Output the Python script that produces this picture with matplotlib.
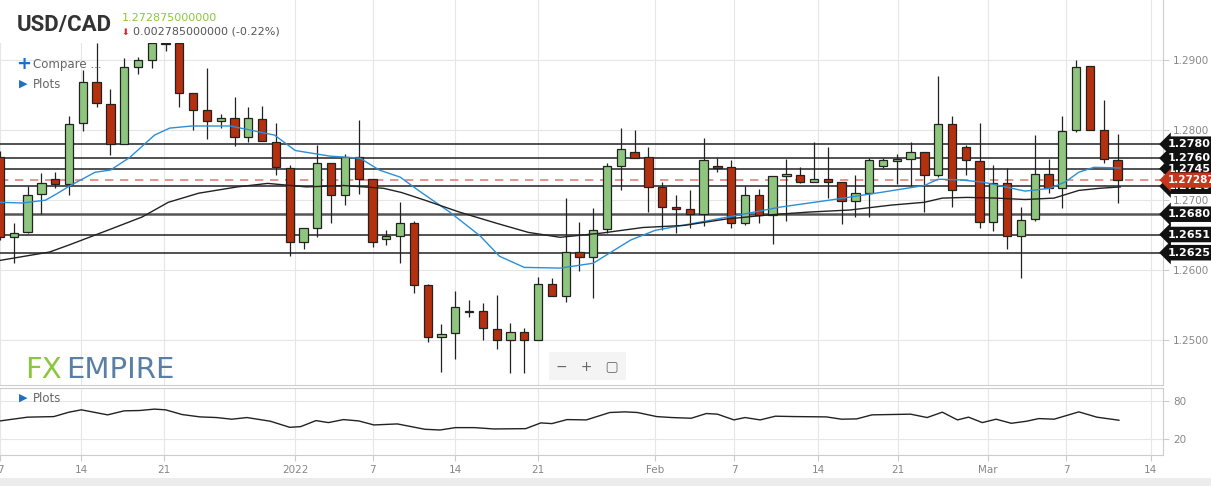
import numpy as np
import matplotlib.pyplot as plt
from matplotlib.patches import Rectangle

# daily candles, USD/CAD
opens  = [1.2761,1.2647,1.2654,1.2709,1.2730,1.2723,1.2810,1.2869,1.2837,1.2781,
          1.2891,1.2900,1.2924,1.2924,1.2853,1.2829,1.2813,1.2817,1.2790,1.2816,
          1.2783,1.2746,1.2640,1.2660,1.2753,1.2707,1.2761,1.2730,1.2644,1.2649,
          1.2667,1.2579,1.2504,1.2510,1.2540,1.2541,1.2516,1.2500,1.2511,1.2501,
          1.2581,1.2563,1.2626,1.2619,1.2659,1.2749,1.2769,1.2761,1.2719,1.2690,
          1.2687,1.2680,1.2749,1.2747,1.2667,1.2707,1.2679,1.2734,1.2736,1.2726,
          1.2730,1.2726,1.2699,1.2711,1.2749,1.2756,1.2759,1.2769,1.2736,1.2809,
          1.2776,1.2756,1.2669,1.2724,1.2649,1.2673,1.2737,1.2717,1.2801,1.2891,
          1.2800,1.2757]
closes = [1.2647,1.2653,1.2707,1.2724,1.2723,1.2809,1.2869,1.2839,1.2781,1.2891,
          1.2900,1.2924,1.2923,1.2853,1.2829,1.2813,1.2817,1.2790,1.2817,1.2784,
          1.2747,1.2641,1.2660,1.2753,1.2707,1.2761,1.2730,1.2641,1.2649,1.2667,
          1.2579,1.2504,1.2509,1.2547,1.2541,1.2517,1.2500,1.2511,1.2501,1.2580,
          1.2563,1.2626,1.2619,1.2657,1.2749,1.2773,1.2761,1.2719,1.2690,1.2687,
          1.2680,1.2757,1.2746,1.2667,1.2707,1.2679,1.2734,1.2737,1.2726,1.2730,
          1.2726,1.2699,1.2710,1.2757,1.2757,1.2759,1.2769,1.2736,1.2809,1.2714,
          1.2757,1.2669,1.2724,1.2649,1.2671,1.2737,1.2717,1.2799,1.2891,1.2800,
          1.2759,1.2729]
highs  = [1.2771,1.2667,1.2721,1.2739,1.2740,1.2821,1.2886,1.2924,1.2859,1.2903,
          1.2904,1.2935,1.2926,1.2935,1.2853,1.2889,1.2823,1.2847,1.2833,1.2834,
          1.2811,1.2750,1.2660,1.2779,1.2753,1.2766,1.2814,1.2730,1.2657,1.2697,
          1.2671,1.2581,1.2523,1.2570,1.2557,1.2553,1.2564,1.2524,1.2517,1.2590,
          1.2589,1.2703,1.2669,1.2689,1.2753,1.2803,1.2800,1.2776,1.2726,1.2707,
          1.2714,1.2789,1.2760,1.2757,1.2721,1.2716,1.2734,1.2759,1.2747,1.2783,
          1.2776,1.2726,1.2736,1.2761,1.2761,1.2766,1.2783,1.2769,1.2877,1.2821,
          1.2779,1.2810,1.2751,1.2746,1.2691,1.2793,1.2759,1.2820,1.2901,1.2891,
          1.2843,1.2794]
lows   = [1.2643,1.2610,1.2653,1.2681,1.2717,1.2707,1.2799,1.2833,1.2764,1.2780,
          1.2880,1.2889,1.2913,1.2833,1.2800,1.2787,1.2803,1.2777,1.2783,1.2784,
          1.2736,1.2620,1.2630,1.2647,1.2667,1.2693,1.2709,1.2633,1.2636,1.2610,
          1.2567,1.2497,1.2454,1.2473,1.2533,1.2500,1.2487,1.2453,1.2453,1.2500,
          1.2563,1.2554,1.2599,1.2561,1.2653,1.2714,1.2761,1.2683,1.2657,1.2653,
          1.2661,1.2663,1.2740,1.2660,1.2664,1.2667,1.2637,1.2671,1.2724,1.2726,
          1.2703,1.2666,1.2676,1.2676,1.2746,1.2723,1.2721,1.2683,1.2733,1.2690,
          1.2736,1.2661,1.2656,1.2631,1.2589,1.2671,1.2710,1.2689,1.2797,1.2800,
          1.2753,1.2696]

# moving averages (candle index, price)
ma_fast_x = [0,1.6,3.3,4.1,5.1,6.9,8.0,9.4,11.2,12.3,13.9,16.7,19.9,21.4,23.9,26.1,27.5,29.0,30.4,
             32.6,34.8,36.2,38.0,40.6,43.0,45.7,47.5,50.0,53.6,56.5,60.1,63.8,67.0,68.0,69.6,
             71.2,74.3,76.1,77.2,78.2,79.3,81.2]
ma_fast_y = [1.2697,1.2696,1.2700,1.2709,1.2721,1.2740,1.2743,1.2761,1.2793,1.2803,1.2806,1.2806,
             1.2793,1.2771,1.2763,1.2760,1.2743,1.2733,1.2713,1.2683,1.2649,1.2620,1.2604,1.2603,
             1.2610,1.2643,1.2657,1.2666,1.2679,1.2690,1.2700,1.2711,1.2721,1.2730,1.2729,1.2726,
             1.2713,1.2717,1.2726,1.2740,1.2747,1.2746]
ma_slow_x = [0,3.6,5.0,7.8,10.3,12.2,14.4,17.2,19.4,22.2,24.9,27.8,29.1,30.8,33.3,36.0,38.3,40.6,
             43.6,46.6,49.6,52.6,55.7,58.6,61.6,64.6,67.0,68.3,70.1,72.2,74.3,76.4,78.2,79.7,81.2]
ma_slow_y = [1.2614,1.2626,1.2636,1.2657,1.2676,1.2697,1.2710,1.2719,1.2724,1.2719,1.2721,1.2717,
             1.2711,1.2700,1.2683,1.2667,1.2654,1.2647,1.2653,1.2661,1.2664,1.2673,1.2679,1.2683,
             1.2686,1.2693,1.2697,1.2703,1.2704,1.2703,1.2701,1.2703,1.2714,1.2717,1.2719]

# oscillator in lower panel
osc_x = [0,2.0,3.9,5.0,5.9,7.8,9.0,10.1,11.2,12.0,13.2,14.5,15.7,16.8,17.9,19.6,21.0,21.8,22.9,
         23.8,24.9,26.0,27.1,28.8,30.8,31.9,33.0,34.4,35.8,38.1,39.2,40.0,41.1,42.5,44.2,45.3,
         46.2,47.6,48.7,50.1,51.2,52.0,53.2,54.0,55.1,56.2,57.6,59.9,61.0,62.1,63.2,66.0,67.2,
         68.3,69.4,70.2,71.2,72.2,73.3,74.4,75.3,76.4,78.2,79.5,81.1]
osc_y = [48.4,54.3,55.2,62.1,65.8,57.9,64.2,64.7,66.9,65.8,58.4,54.7,53.7,51.1,53.7,47.9,38.4,
         39.5,48.9,45.8,50.5,48.4,42.1,43.7,35.3,34.2,37.9,37.9,35.8,36.3,45.3,44.2,50.5,50.0,
         61.6,62.6,61.6,55.2,53.7,52.6,60.0,59.0,50.0,53.7,50.0,55.8,55.2,54.7,51.1,51.6,57.9,
         59.0,53.7,62.1,50.0,54.3,45.8,51.1,44.7,47.9,52.1,51.1,62.6,54.3,49.5]

levels = [1.2780, 1.2760, 1.2745, 1.2720, 1.2680, 1.2651, 1.2625]
last_price = 1.272875
tick_pos = [0, 5.9, 11.9, 21.4, 27.0, 33.0, 39.0, 47.5, 53.2, 59.3, 65.1, 71.6, 77.3, 83.4]
tick_lab = ['7', '14', '21', '2022', '7', '14', '21', 'Feb', '7', '14', '21', 'Mar', '7', '14']
price_ticks = [1.25, 1.26, 1.27, 1.28, 1.29]

UP = '#8fc67f'
DOWN = '#b5300e'
GRID = '#e6e6e6'

fig = plt.figure(figsize=(12.11, 4.86), dpi=100)
ax = fig.add_axes([0, 1 - 385 / 486, 0.9604, 385 / 486])
ax2 = fig.add_axes([0, 1 - 455 / 486, 0.9604, 67 / 486])

for a in (ax, ax2):
    a.set_xlim(0, 84.3)
    for x in tick_pos:
        a.axvline(x, color=GRID, lw=0.8, zorder=0)
    a.spines['top'].set_visible(False)
    a.spines['left'].set_visible(False)
    a.spines['right'].set_color('#cccccc')
    a.spines['bottom'].set_color('#cccccc')
    a.yaxis.tick_right()
    a.tick_params(axis='y', length=4, colors='#cccccc', labelcolor='#888888', labelsize=7.5, pad=3)
ax2.spines['top'].set_visible(True)
ax2.spines['top'].set_color('#cccccc')

ax.set_ylim(1.2436, 1.2986)
for p in price_ticks:
    ax.axhline(p, color=GRID, lw=0.8, zorder=0)
ax.set_yticks(price_ticks)
ax.set_yticklabels(['%.4f' % p for p in price_ticks])
ax.set_xticks([])

# candles
w = 0.6
for i, (o, c, h, l) in enumerate(zip(opens, closes, highs, lows)):
    col = UP if c >= o else DOWN
    ax.vlines(i, l, h, color='#222222', lw=0.9, zorder=3)
    ax.add_patch(Rectangle((i - w / 2, min(o, c)), w, max(abs(c - o), 0.00006),
                           facecolor=col, edgecolor='#222222', lw=0.9, zorder=4))

ax.plot(ma_fast_x, ma_fast_y, color='#2b8fd6', lw=1.0, zorder=5)
ax.plot(ma_slow_x, ma_slow_y, color='#222222', lw=1.0, zorder=5)

for lv in levels:
    ax.axhline(lv, color='#555555' if lv == 1.2680 else '#222222',
               lw=1.8 if lv == 1.2680 else 1.1, zorder=2)
    ax.text(1.004, lv, '%.4f' % lv, transform=ax.get_yaxis_transform(), va='center', ha='left',
            color='white', fontsize=8, fontweight='bold', clip_on=False, zorder=6,
            bbox=dict(boxstyle='larrow,pad=0.25', fc='#111111', ec='none'))
ax.axhline(last_price, color='#e0837a', lw=1.2, ls=(0, (5, 4)), zorder=2)
ax.text(1.004, last_price, '%.7f' % last_price, transform=ax.get_yaxis_transform(), va='center',
        ha='left', color='white', fontsize=7.5, fontweight='bold', clip_on=False, zorder=7,
        bbox=dict(boxstyle='larrow,pad=0.25', fc='#c7351c', ec='none'))

# header overlay
ax.add_patch(Rectangle((0, 1 - 43 / 385), 0.16, 43 / 385, transform=ax.transAxes,
                       facecolor='white', edgecolor='none', zorder=8))
ax.text(0.014, 1 - 25 / 385, 'USD/CAD', transform=ax.transAxes, fontsize=16, fontweight='bold',
        family='Roboto', color='#333333', va='center', zorder=9)
ax.text(0.105, 1 - 18 / 385, '1.272875000000', transform=ax.transAxes, fontsize=8,
        color='#8cc63f', va='center', zorder=9)
ax.text(0.104, 1 - 32 / 385, '\u2b07', transform=ax.transAxes, fontsize=6.5, color='#e0202a',
        va='center', zorder=9)
ax.text(0.114, 1 - 32 / 385, '0.002785000000 (-0.22%)', transform=ax.transAxes, fontsize=8,
        color='#555555', va='center', zorder=9)
ax.text(0.014, 1 - 64 / 385, '+', transform=ax.transAxes, fontsize=13, color='#1f6fc6',
        fontweight='bold', va='center', zorder=9)
ax.text(0.028, 1 - 64 / 385, 'Compare ...', transform=ax.transAxes, fontsize=8.5,
        color='#666666', va='center', zorder=9)
ax.text(0.016, 1 - 84 / 385, '\u25b6', transform=ax.transAxes, fontsize=8, color='#1f6fc6',
        va='center', zorder=9)
ax.text(0.028, 1 - 84 / 385, 'Plots', transform=ax.transAxes, fontsize=8.5,
        color='#666666', va='center', zorder=9)
ax.text(0.022, 1 - 370 / 385, 'FX', transform=ax.transAxes, fontsize=21, color='#8cc63f',
        va='center', zorder=9)
ax.text(0.057, 1 - 370 / 385, 'EMPIRE', transform=ax.transAxes, fontsize=21, color='#5a7fa6',
        va='center', zorder=9)
ax.text(0.478, 1 - 366 / 385, '\u2212   +   \u25a2', transform=ax.transAxes, fontsize=10,
        color='#666666', va='center', zorder=9,
        bbox=dict(boxstyle='square,pad=0.5', fc='#f4f4f4', ec='none'))

# lower panel
ax2.set_ylim(-5, 100)
for p in (20, 80):
    ax2.axhline(p, color=GRID, lw=0.8, zorder=0)
ax2.plot(osc_x, osc_y, color='#222222', lw=1.0)
ax2.set_yticks([20, 80])
ax2.set_xticks(tick_pos)
ax2.set_xticklabels(tick_lab)
ax2.tick_params(axis='x', length=4, colors='#cccccc', labelcolor='#888888', labelsize=7.5)
ax2.text(0.016, 1 - 10 / 67, '\u25b6', transform=ax2.transAxes, fontsize=8, color='#1f6fc6',
         va='center')
ax2.text(0.028, 1 - 10 / 67, 'Plots', transform=ax2.transAxes, fontsize=8.5, color='#666666',
         va='center')

fig.patches.append(Rectangle((0, 0), 1, 8 / 486, transform=fig.transFigure,
                             facecolor='#ececec', edgecolor='none'))
fig.savefig('out.png', dpi=100)
